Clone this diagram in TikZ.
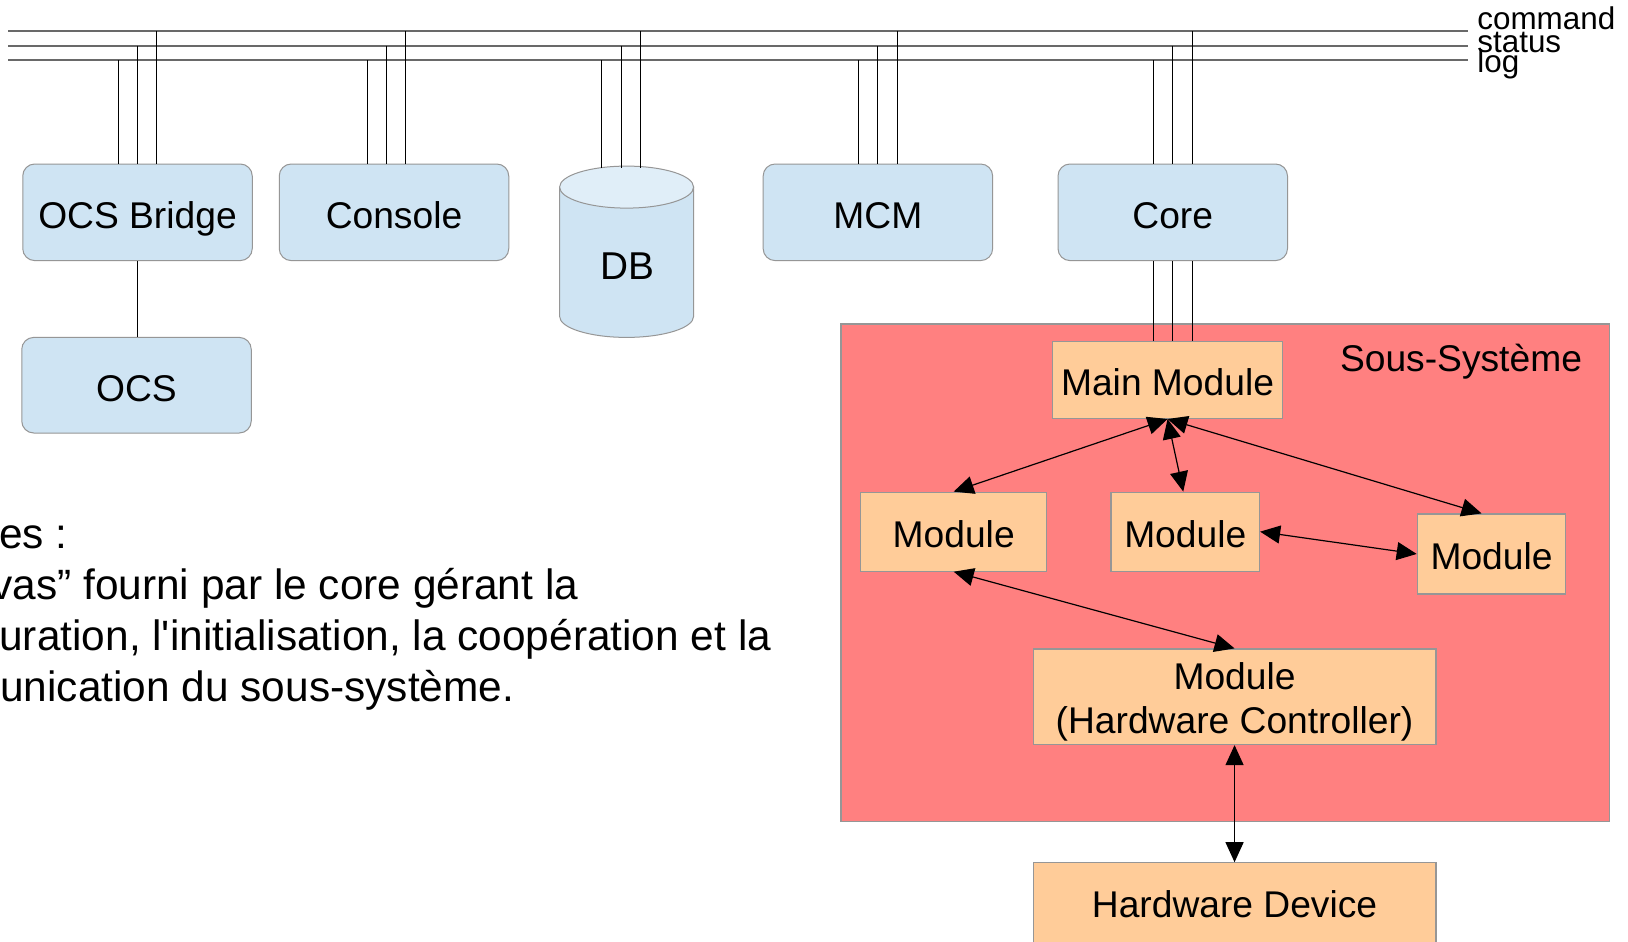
\documentclass[tikz,border=0pt]{standalone}
\usepackage{fontspec}
\setmainfont{Liberation Sans}[Ligatures=TeXOff]
\usetikzlibrary{arrows.meta}
\definecolor{boxblue}{RGB}{207,228,243}
\definecolor{capblue}{RGB}{224,238,248}
\definecolor{subred}{RGB}{255,128,128}
\definecolor{modorange}{RGB}{255,204,153}
\definecolor{edgegray}{RGB}{150,150,150}
\definecolor{busgray}{RGB}{105,105,105}
\tikzset{
  bluebox/.style={draw=edgegray, fill=boxblue, rounded corners=6pt, line width=0.5pt,
    font=\fontsize{18.6}{22}\selectfont, inner sep=0pt, text height=16.5pt, text depth=0.6pt},
  modbox/.style={draw=edgegray, fill=modorange, line width=0.6pt,
    font=\fontsize{18.6}{22}\selectfont, inner sep=0pt, text height=16.5pt, text depth=0.6pt},
  modtext/.style={font=\fontsize{18.6}{22}\selectfont, inner sep=0pt, align=center},
  bus/.style={draw=busgray, line width=0.9pt},
  tap/.style={draw=black, line width=0.5pt},
  link/.style={draw=black, line width=0.6pt,
    {Triangle[length=10pt,width=9pt]}-{Triangle[length=10pt,width=9pt]}},
  buslabel/.style={font=\fontsize{15.7}{16}\selectfont, anchor=base west, inner sep=0pt},
  note/.style={font=\fontsize{21.2}{25}\selectfont, anchor=base west, inner sep=0pt},
}
\begin{document}
\begin{tikzpicture}[x=0.5pt, y=-0.5pt]
\clip (0,0) rectangle (1628,942);
\fill[white] (0,0) rectangle (1628,942);

% three-wire bus
\coordinate (cmdL) at (8.3,31.1);  \coordinate (cmdR) at (1468,31.1);
\coordinate (stsL) at (8.3,45.7);  \coordinate (stsR) at (1468,45.7);
\coordinate (logL) at (8.3,60.2);  \coordinate (logR) at (1468,60.2);
\draw[bus] (cmdL) -- (cmdR);
\draw[bus] (stsL) -- (stsR);
\draw[bus] (logL) -- (logR);
\node[buslabel] (lcmd) at (1477,29.5) {command};
\node[buslabel] (lsts) at (1477,52.5) {status};
\node[buslabel] (llog) at (1477,72) {log};

% subsystem frame
\node[draw=edgegray, fill=subred, line width=0.6pt, minimum width=384.2pt,
      minimum height=248.65pt, inner sep=0pt] (sous) at (1225.2,572.65) {};
\node[font=\fontsize{18.6}{22}\selectfont, inner sep=0pt] (soustitle) at (1461,362) {Sous-Système};

% bus clients
\node[bluebox, minimum width=114.75pt, minimum height=48.3pt] (ocsb) at (137.5,212.3) {OCS Bridge};
\node[bluebox, minimum width=114.75pt, minimum height=48.3pt] (console) at (394,212.3) {Console};
\node[bluebox, minimum width=114.75pt, minimum height=48.3pt] (mcm) at (877.9,212.3) {MCM};
\node[bluebox, minimum width=114.75pt, minimum height=48.3pt] (core) at (1172.75,212.3) {Core};
\node[bluebox, minimum width=114.75pt, minimum height=47.8pt] (ocs) at (136.5,385.2) {OCS};

% database cylinder
\draw[draw=edgegray, fill=boxblue, line width=0.5pt]
  (559.6,187.1) -- (559.6,316.4)
  arc[start angle=180, end angle=360, x radius=33.5pt, y radius=10.5pt]
  -- (693.6,187.1) -- cycle;
\draw[draw=edgegray, fill=capblue, line width=0.5pt]
  (626.6,187.1) ellipse [x radius=33.5pt, y radius=10.5pt];
\coordinate (dbtop) at (626.6,167.5);
\node[font=\fontsize{19.4}{22}\selectfont, inner sep=0pt] (db) at (627,265.8) {DB};

% taps from the bus (log, status, command)
\foreach \xl/\xs/\xc/\n in {118.3/137.5/156.3/ocsb, 367.4/386.6/405.8/console,
                            858.6/877.5/897/mcm, 1153/1172.8/1192.5/core}{
  \draw[tap] (\xl,0 |- logL) -- (\xl,0 |- \n.north);
  \draw[tap] (\xs,0 |- stsL) -- (\xs,0 |- \n.north);
  \draw[tap] (\xc,0 |- cmdL) -- (\xc,0 |- \n.north);
}
\draw[tap] (601.8,0 |- logL) -- (601.8,0 |- dbtop);
\draw[tap] (621,0 |- stsL) -- (621,0 |- dbtop);
\draw[tap] (640.2,0 |- cmdL) -- (640.2,0 |- dbtop);
\draw[tap] (ocsb.south) -- (ocsb.south |- ocs.north);

% modules
\node[modbox, minimum width=114.75pt, minimum height=38.4pt] (main) at (1167.55,380) {Main Module};
\node[modbox, minimum width=92.9pt, minimum height=39.45pt] (m1) at (953.7,531.65) {Module};
\node[modbox, minimum width=74.25pt, minimum height=39.45pt] (m2) at (1185.25,531.65) {Module};
\node[modbox, minimum width=74.25pt, minimum height=39.95pt] (m3) at (1491.55,553.95) {Module};
\node[modbox, minimum width=201.45pt, minimum height=47.75pt] (hc) at (1234.55,696.75) {};
\node[modtext] (hctext) at ([yshift=-2.6pt]hc.center) {Module\\(Hardware Controller)};
\node[modbox, minimum width=201.45pt, minimum height=48pt] (hwd) at (1234.55,910.8) {};
\node[modtext] (hwdtext) at (1234.55,904) {Hardware Device};

% core wires down to the main module
\foreach \x in {1153,1172.8,1192.5}{
  \draw[tap] (\x,0 |- core.south) -- (\x,0 |- main.north);
}

% module links
\draw[link] (main.south) -- (m1.north);
\draw[link] (main.south) -- ([xshift=-1pt]m2.north);
\draw[link] (main.south) -- ([xshift=-5pt]m3.north);
\draw[link] (m2.east) -- (m3.west);
\draw[link] (m1.south) -- (hc.north);
\draw[link] (hc.south) -- (hwd.north);

% notes on the left
\node[note] (n1) at (-1,548) {es :};
\node[note] (n2) at (-9,599) {vas” fourni par le core gérant la};
\node[note] (n3) at (-1,650) {uration, l'initialisation, la coopération et la};
\node[note] (n4) at (0,701) {unication du sous-système.};
\end{tikzpicture}
\end{document}
